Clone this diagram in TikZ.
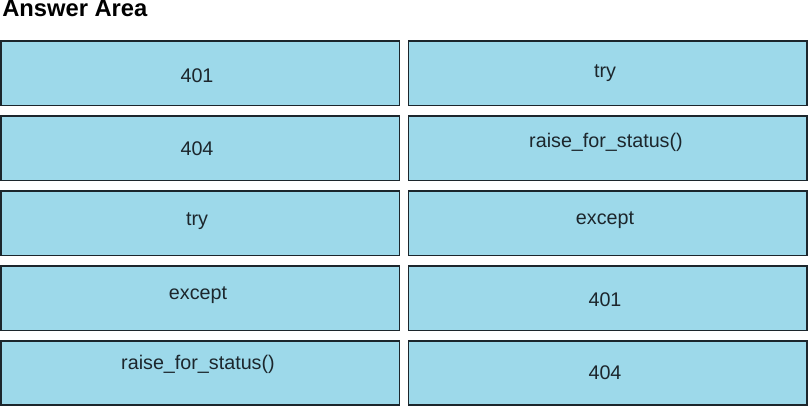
\documentclass[tikz,border=0pt]{standalone}
\usepackage{fontspec}
\setmainfont{Liberation Sans}
\definecolor{answerblue}{RGB}{157,217,234}
\definecolor{answerline}{RGB}{28,38,44}
\tikzset{
  answerbox/.style={draw=answerline, fill=answerblue, line width=1.1pt},
  answertext/.style={anchor=base, inner sep=0.75pt, text=answerline, font=\fontsize{14.8}{17}\selectfont}
}
\begin{document}
\begin{tikzpicture}[x=0.75pt,y=0.75pt,yscale=-1,xscale=1]
\useasboundingbox (0,0) rectangle (808,406);

% Title
    \node [anchor=base west, inner sep=0pt, font=\bfseries\fontsize{17.8}{19}\selectfont] (title) at (2,17) {Answer Area};

%Boxes left column
    \draw [answerbox] (1,41) rectangle (399.5,105.5) ;
    \draw [answerbox] (1,116) rectangle (399.5,180.5) ;
    \draw [answerbox] (1,191) rectangle (399.5,255.5) ;
    \draw [answerbox] (1,266) rectangle (399.5,330.5) ;
    \draw [answerbox] (1,341) rectangle (399.5,405) ;
%Boxes right column
    \draw [answerbox] (408.5,41) rectangle (807,105.5) ;
    \draw [answerbox] (408.5,116) rectangle (807,180.5) ;
    \draw [answerbox] (408.5,191) rectangle (807,255.5) ;
    \draw [answerbox] (408.5,266) rectangle (807,330.5) ;
    \draw [answerbox] (408.5,341) rectangle (807,405) ;

% Text Node
    \node [answertext] (leftA) at (197,83) {401};
% Text Node
    \node [answertext] (leftB) at (197,156) {404};
% Text Node
    \node [answertext] (leftC) at (197,226) {try};
% Text Node
    \node [answertext] (leftD) at (198,300) {except};
% Text Node
    \node [answertext] (leftE) at (198,370) {raise\_for\_status()};
% Text Node
    \node [answertext] (rightA) at (605,78) {try};
% Text Node
    \node [answertext] (rightB) at (606,148) {raise\_for\_status()};
% Text Node
    \node [answertext] (rightC) at (605,225) {except};
% Text Node
    \node [answertext] (rightD) at (605,307) {401};
% Text Node
    \node [answertext] (rightE) at (605,380) {404};
\end{tikzpicture}
\end{document}
